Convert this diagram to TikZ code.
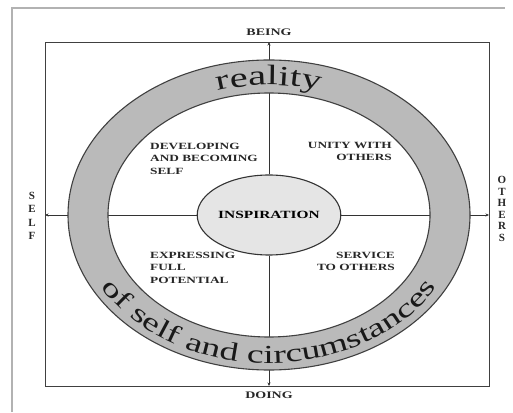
\documentclass[tikz,border=0pt]{standalone}
\usepackage{fontspec}
\setmainfont{Liberation Serif}
\newfontfamily\capsfont[FakeStretch=1.4]{Liberation Serif}
\newfontfamily\ringfont[FakeStretch=1.45]{Liberation Serif}
\usetikzlibrary{arrows.meta, calc, decorations.text, shapes.geometric}

\newcommand{\quadfont}{\capsfont\bfseries\fontsize{9.5}{12.5}\selectfont}
\newcommand{\topringfont}{\ringfont\fontsize{28}{28}\selectfont}
\newcommand{\lowringfont}{\ringfont\fontsize{26}{26}\selectfont}

\begin{document}
\begin{tikzpicture}[x=1pt, y=1pt,
  axis/.style={line width=0.9pt, draw=black!80, -{Stealth[length=3.5pt, width=3pt]}},
  rim/.style={line width=1.1pt, draw=black!75},
  quad/.style={font=\quadfont, text=black!85, inner sep=0pt},
  side/.style={font=\capsfont\bfseries\fontsize{10}{13}\selectfont, text=black!85, inner sep=0pt, align=center}]

\useasboundingbox (0,0) rectangle (513,412);

% page frame
\draw[line width=2pt, black!30] (12,0) -- (12,404) -- (505,404);

% outer box and axis ends
\draw[line width=0.9pt, black!75] (45,26) rectangle (489,370);
\coordinate (ctr) at (269,197);
\coordinate (up) at (269,370);
\coordinate (down) at (269,26);
\coordinate (left) at (45,197);
\coordinate (right) at (489,197);

% centre
\node[ellipse, draw=black!80, line width=1.1pt, fill=black!10, minimum width=102pt,
  minimum height=80pt, inner sep=0pt, font=\capsfont\bfseries\fontsize{11}{12}\selectfont]
  (insp) at (ctr) {INSPIRATION};

% axes
\draw[axis] (insp.north) -- (up);
\draw[axis] (insp.south) -- (down);
\draw[axis] (insp.west) -- (left);
\draw[axis] (insp.east) -- (right);

% ring
\fill[black!27, even odd rule] (ctr) ellipse [x radius=201pt, y radius=155pt]
  (ctr) ellipse [x radius=161pt, y radius=122pt];
\draw[rim] (ctr) ellipse [x radius=201pt, y radius=155pt];
\draw[rim] (ctr) ellipse [x radius=161pt, y radius=122pt];

% ring text
\path[decorate, decoration={text along path, text align=center,
  text color=black!90, text={|\topringfont|reality}}]
  ($(ctr)+(110:171pt and 130pt)$) arc [start angle=110, end angle=70, x radius=171pt, y radius=130pt];
\path[decorate, decoration={text along path, text align=center,
  text color=black!90, text={|\lowringfont|of self and circumstances}}]
  ($(ctr)+(196:192pt and 148pt)$) arc [start angle=196, end angle=344, x radius=192pt, y radius=148pt];

% quadrants
\node[quad, anchor=north west, align=left] (dev) at (150,269) {DEVELOPING\\AND BECOMING\\SELF};
\node[quad, anchor=north east, align=right] (unity) at (392,270) {UNITY WITH\\OTHERS};
\node[quad, anchor=north west, align=left] (expr) at (150,160) {EXPRESSING\\FULL\\POTENTIAL};
\node[quad, anchor=north east, align=right] (serv) at (395,160) {SERVICE\\TO OTHERS};

% axis labels
\node[side, above=6pt] (being) at (up) {BEING};
\node[side, below=6pt] (doing) at (down) {DOING};
\node[side, font=\bfseries\fontsize{11}{13.3}\selectfont] (self) at (32,196) {S\\E\\L\\F};
\node[side, font=\bfseries\fontsize{11}{11.6}\selectfont] (others) at (502,203) {O\\T\\H\\E\\R\\S};

\end{tikzpicture}
\end{document}
